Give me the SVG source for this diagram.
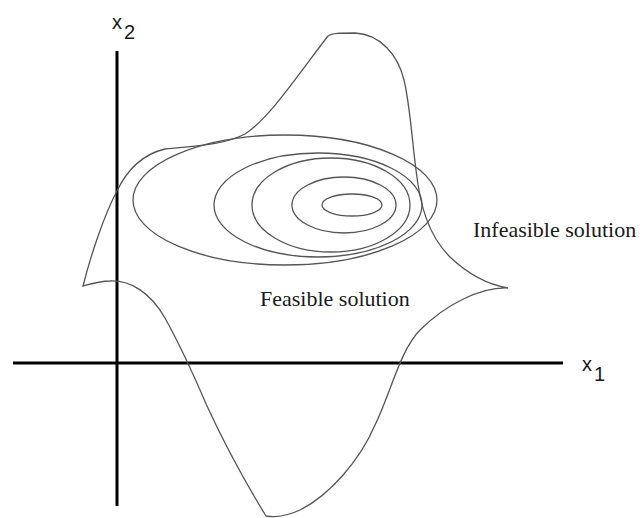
<svg xmlns="http://www.w3.org/2000/svg" width="640" height="518" viewBox="0 0 640 518">
<style>
.ax{stroke:#000;stroke-width:3;fill:none}
.cv{stroke:#555;stroke-width:1.3;fill:none}
.sans{font-family:"Liberation Sans",Arial,sans-serif;font-size:20px;fill:#1a1a1a}
.serif{font-family:"Liberation Serif","Times New Roman",serif;font-size:22px;fill:#1a1a1a}
</style>
<rect width="640" height="518" fill="#fff"/>
<g id="axes">
<line class="ax" x1="117" y1="51" x2="117" y2="506"/>
<line class="ax" x1="13" y1="363" x2="563" y2="363"/>
</g>
<g id="contours">
<ellipse class="cv" cx="285" cy="200" rx="152" ry="65"/>
<ellipse class="cv" cx="318" cy="205" rx="104" ry="52"/>
<ellipse class="cv" cx="331" cy="205" rx="79" ry="47"/>
<ellipse class="cv" cx="344" cy="205" rx="52" ry="28"/>
<ellipse class="cv" cx="352" cy="205" rx="30" ry="11"/>
</g>
<g id="boundary">
<path class="cv" d="M83,286 C90,258 104,215 117,191 C126,172 140,155 165,149 C190,146 222,146 245,134 C270,118 300,72 328,36 C332,33 340,33 355,33 C380,34 398,55 404,80 C410,105 412,140 416,170 C420,205 428,235 450,257 C470,276 490,285 508,288 C480,287 445,305 420,330 C400,350 390,395 375,425 C360,460 330,495 300,510 C285,517 272,517 266,516 C250,490 225,445 207,406 C195,378 180,345 165,318 C150,292 130,280 110,281 C100,281 90,284 83,286 Z"/>
</g>
<g id="labels">
<text class="sans" x="112" y="29">x</text>
<text class="sans" x="124" y="39">2</text>
<text class="sans" x="582" y="371">x</text>
<text class="sans" x="594" y="381">1</text>
<text class="serif" x="260" y="306">Feasible solution</text>
<text class="serif" x="473" y="237">Infeasible solution</text>
</g>
</svg>
